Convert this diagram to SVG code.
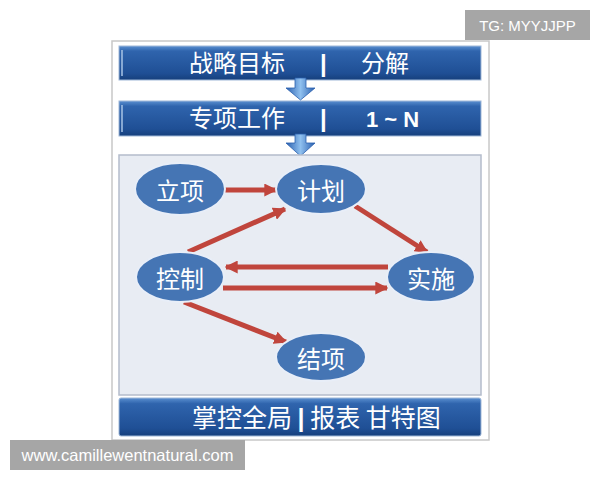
<svg xmlns="http://www.w3.org/2000/svg" width="600" height="480" viewBox="0 0 600 480">
<defs>
<linearGradient id="bar" x1="0" y1="0" x2="0" y2="1">
<stop offset="0" stop-color="#5a8fd0"/>
<stop offset="0.15" stop-color="#2f64ad"/>
<stop offset="0.8" stop-color="#1f4f95"/>
<stop offset="1" stop-color="#163f7c"/>
</linearGradient>
<linearGradient id="darr" x1="0" y1="0" x2="1" y2="0">
<stop offset="0" stop-color="#2a5fae"/>
<stop offset="0.5" stop-color="#8fc0ef"/>
<stop offset="1" stop-color="#2a5fae"/>
</linearGradient>
<marker id="ah" viewBox="0 0 10 10" refX="9" refY="5" markerWidth="2.6" markerHeight="2.6" orient="auto" markerUnits="strokeWidth">
<path d="M0,0 L10,5 L0,10 z" fill="#c0453c"/>
</marker>
<style>
.bar{fill:url(#bar);stroke:#9fb8d8;stroke-width:1}
.bt{font-family:"Noto Sans CJK SC","Liberation Sans",sans-serif;fill:#ffffff;font-size:24px}
.pipe{font-family:"Liberation Sans",sans-serif;fill:#ffffff;font-size:24px;font-weight:bold}
.nd{fill:#4575b4;stroke:#e8eef8;stroke-width:2}
.nt{font-family:"Noto Sans CJK SC",sans-serif;fill:#ffffff;font-size:24px;text-anchor:middle;dominant-baseline:central}
.cn{stroke:#c0453c;stroke-width:5;fill:none;marker-end:url(#ah)}
.wm{fill:#a6a6a6}
.wt{font-family:"Liberation Sans",Arial,sans-serif;fill:#ffffff;font-size:15px}
</style>
</defs>
<rect x="0" y="0" width="600" height="480" fill="#ffffff"/>
<rect x="112" y="41" width="377" height="399" fill="#ffffff" stroke="#c8c8c8" stroke-width="1.5"/>
<g id="bar1">
<rect class="bar" x="119" y="46" width="362" height="34"/>
<line x1="122" y1="50" x2="122" y2="76" stroke="#a8c4e6" stroke-width="1.5"/>
<text class="bt" x="189" y="72">战略目标</text>
<text class="pipe" x="320" y="72">|</text>
<text class="bt" x="361" y="72">分解</text>
</g>
<g id="bar2">
<rect class="bar" x="119" y="101" width="362" height="35"/>
<line x1="122" y1="105" x2="122" y2="132" stroke="#a8c4e6" stroke-width="1.5"/>
<text class="bt" x="189" y="127">专项工作</text>
<text class="pipe" x="320" y="127">|</text>
<text class="bt" x="366" y="127" style="font-family:'Liberation Sans',sans-serif;font-weight:bold;font-size:22px">1 ~ N</text>
</g>
<g id="darrow1">
<path d="M295,78 L306,78 L306,88 L315,88 L300.5,100 L286,88 L295,88 z" fill="url(#darr)" stroke="#2a5fae" stroke-width="0.8"/>
</g>
<g id="darrow2">
<path d="M295,134 L306,134 L306,143 L315,143 L300.5,156 L286,143 L295,143 z" fill="url(#darr)" stroke="#2a5fae" stroke-width="0.8"/>
</g>
<rect x="119" y="155" width="362" height="240" fill="#e8ecf3" stroke="#b4bccb" stroke-width="1.5"/>
<g id="connectors">
<line class="cn" x1="225" y1="190" x2="276" y2="190"/>
<line class="cn" x1="188" y1="252" x2="285" y2="209"/>
<line class="cn" x1="355" y1="206" x2="427" y2="252"/>
<line class="cn" x1="388" y1="267" x2="226" y2="267"/>
<line class="cn" x1="223" y1="288" x2="387" y2="288"/>
<line class="cn" x1="184" y1="302" x2="286" y2="342"/>
</g>
<g id="n-lixiang">
<ellipse class="nd" cx="180" cy="189" rx="45" ry="26"/>
<text class="nt" x="180" y="189">立项</text>
</g>
<g id="n-jihua">
<ellipse class="nd" cx="321" cy="189" rx="45" ry="25"/>
<text class="nt" x="321" y="189">计划</text>
</g>
<g id="n-kongzhi">
<ellipse class="nd" cx="180" cy="277" rx="44" ry="25"/>
<text class="nt" x="180" y="277">控制</text>
</g>
<g id="n-shishi">
<ellipse class="nd" cx="431" cy="277" rx="44" ry="25"/>
<text class="nt" x="431" y="277">实施</text>
</g>
<g id="n-jiexiang">
<ellipse class="nd" cx="321" cy="357" rx="45" ry="24"/>
<text class="nt" x="321" y="357">结项</text>
</g>
<g id="bar3">
<rect class="bar" x="119" y="398" width="362" height="38" rx="2"/>
<text class="bt" x="192" y="427" style="font-size:25px">掌控全局 <tspan style="font-family:'Liberation Sans',sans-serif;font-weight:bold">|</tspan> 报表 甘特图</text>
</g>
<g id="wm1">
<rect class="wm" x="465" y="10" width="125" height="30"/>
<text class="wt" x="527.5" y="30.5" text-anchor="middle">TG: MYYJJPP</text>
</g>
<g id="wm2">
<rect class="wm" x="10" y="440" width="235" height="30"/>
<text class="wt" x="127.5" y="461" text-anchor="middle" style="font-size:16.5px">www.camillewentnatural.com</text>
</g>
</svg>
